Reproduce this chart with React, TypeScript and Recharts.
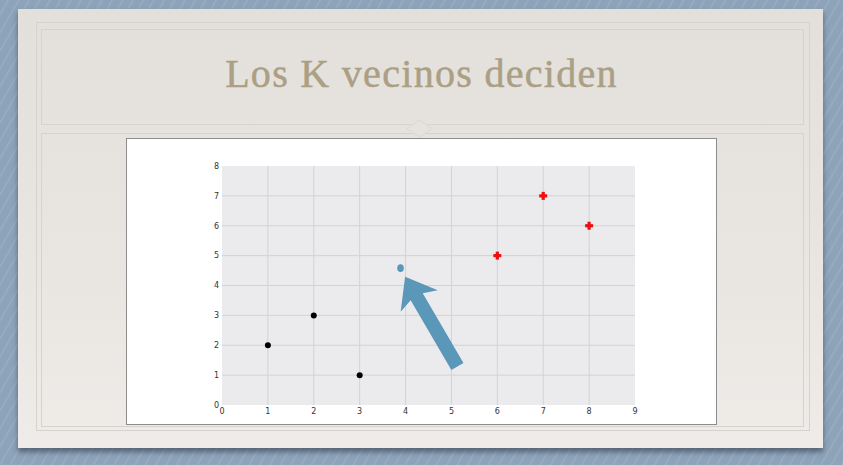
import React from 'react';
import {
  ScatterChart,
  Scatter,
  XAxis,
  YAxis,
  CartesianGrid,
  ReferenceLine,
} from 'recharts';

const title = 'Los K vecinos deciden';

const xTicks = [0, 1, 2, 3, 4, 5, 6, 7, 8, 9];
const yTicks = [0, 1, 2, 3, 4, 5, 6, 7, 8];

// clase negra
const blackPoints = [
  { x: 1, y: 2 },
  { x: 2, y: 3 },
  { x: 3, y: 1 },
];

// clase roja
const redPoints = [
  { x: 6, y: 5 },
  { x: 7, y: 7 },
  { x: 8, y: 6 },
];

// punto a clasificar
const newPoint = [{ x: 3.89, y: 4.58 }];

// flecha: cola -> punta
const arrowTail = { x: 5.13, y: 1.29 };
const arrowTip = { x: 3.99, y: 4.29 };

const BLUE = '#5b97b9';

const BlackDot = ({ cx, cy }: any) => <circle cx={cx} cy={cy} r={3} fill="#000" />;

const BlueDot = ({ cx, cy }: any) => <ellipse cx={cx} cy={cy} rx={3.3} ry={3.8} fill={BLUE} />;

const RedPlus = ({ cx, cy }: any) => (
  <g fill="#ec1010">
    <rect x={cx - 4} y={cy - 1.6} width={8} height={3.2} />
    <rect x={cx - 1.6} y={cy - 4} width={3.2} height={8} />
  </g>
);

const Arrow = ({ x1, y1, x2, y2 }: any) => {
  const dx = x2 - x1;
  const dy = y2 - y1;
  const len = Math.sqrt(dx * dx + dy * dy) || 1;
  const ux = dx / len;
  const uy = dy / len;
  const px = -uy;
  const py = ux;
  const headLen = 28;
  const notch = 23;
  const headHalf = 21.5;
  const shaftHalf = 7;
  const pt = (along: number, side: number) =>
    `${x2 - ux * along + px * side},${y2 - uy * along + py * side}`;
  const points = [
    pt(0, 0),
    pt(headLen, headHalf),
    pt(notch, shaftHalf),
    pt(len, shaftHalf),
    pt(len, -shaftHalf),
    pt(notch, -shaftHalf),
    pt(headLen, -headHalf),
  ].join(' ');
  return <polygon points={points} fill={BLUE} />;
};

const frameLine = '1px solid #d6d3ce';

export default function App() {
  return (
    <div
      style={{
        position: 'fixed',
        left: 0,
        top: 0,
        width: 843,
        height: 465,
        overflow: 'hidden',
        background:
          'repeating-linear-gradient(120deg, #8da3ba 0px, #8da3ba 6px, #99adc2 7px, #8da3ba 9px)',
      }}
    >
      {/* diapositiva */}
      <div
        style={{
          position: 'absolute',
          left: 18,
          top: 9,
          width: 805,
          height: 439,
          background: 'linear-gradient(180deg, #e3e0dc 0%, #e9e6e2 60%, #eeebe8 100%)',
          boxShadow: '0 4px 5px rgba(40,50,60,0.55)',
        }}
      />
      <div
        style={{
          position: 'absolute',
          left: 36,
          top: 22,
          width: 774,
          height: 409,
          border: frameLine,
          boxSizing: 'border-box',
        }}
      />
      <div
        style={{
          position: 'absolute',
          left: 41,
          top: 29,
          width: 763,
          height: 96,
          border: frameLine,
          boxSizing: 'border-box',
        }}
      />
      <div
        style={{
          position: 'absolute',
          left: 41,
          top: 133,
          width: 763,
          height: 294,
          border: frameLine,
          boxSizing: 'border-box',
        }}
      />
      <div
        style={{
          position: 'absolute',
          left: 413,
          top: 122,
          width: 11,
          height: 11,
          border: '1px solid #dcd9d4',
          transform: 'scaleX(1.5) rotate(45deg)',
          background: '#e6e3df',
        }}
      />
      <div
        style={{
          position: 'absolute',
          left: 0,
          width: 843,
          top: 51,
          textAlign: 'center',
          fontFamily: '"Liberation Serif", "DejaVu Serif", serif',
          fontSize: 40,
          letterSpacing: 1.3,
          lineHeight: '46px',
          color: '#ab9f84',
          WebkitTextStroke: '0.5px #ab9f84',
        }}
      >
        {title}
      </div>

      {/* figura */}
      <div
        style={{
          position: 'absolute',
          left: 126,
          top: 138,
          width: 591,
          height: 287,
          boxSizing: 'border-box',
          border: '1px solid #8c8c8c',
          background: '#fff',
        }}
      >
        <ScatterChart
          width={589}
          height={285}
          margin={{ top: 27, right: 81, bottom: 5, left: 83 }}
        >
          <CartesianGrid
            fill="#ebebee"
            fillOpacity={1}
            stroke="#d3d3d7"
            strokeWidth={1}
            horizontalValues={yTicks.slice(1, -1)}
            verticalValues={xTicks.slice(1, -1)}
          />
          <XAxis
            type="number"
            dataKey="x"
            domain={[0, 9]}
            ticks={xTicks}
            allowDataOverflow
            axisLine={false}
            tickLine={false}
            tickSize={2}
            tickMargin={1}
            height={14}
            interval={0}
            tick={{ fontSize: 8, fill: '#333', fontFamily: '"DejaVu Sans", sans-serif' }}
          />
          <YAxis
            type="number"
            dataKey="y"
            domain={[0, 8]}
            ticks={yTicks}
            allowDataOverflow
            axisLine={false}
            tickLine={false}
            tickSize={2}
            tickMargin={1}
            width={12}
            interval={0}
            tick={{ fontSize: 8, fill: '#333', fontFamily: '"DejaVu Sans", sans-serif' }}
          />
          <Scatter data={blackPoints} shape={BlackDot} isAnimationActive={false} />
          <Scatter data={redPoints} shape={RedPlus} isAnimationActive={false} />
          <Scatter data={newPoint} shape={BlueDot} isAnimationActive={false} />
          <ReferenceLine
            segment={[arrowTail, arrowTip]}
            shape={Arrow}
            ifOverflow="visible"
          />
        </ScatterChart>
      </div>
    </div>
  );
}
